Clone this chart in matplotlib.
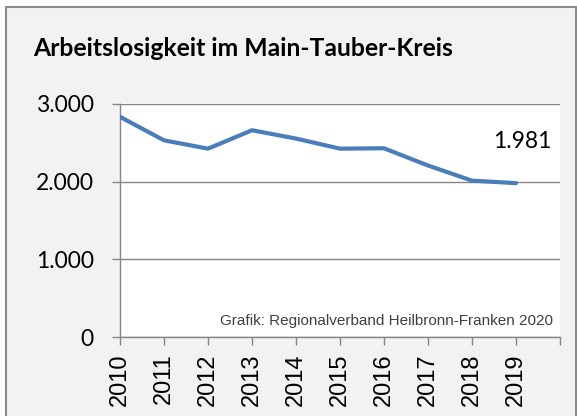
import matplotlib
matplotlib.use("Agg")
import matplotlib.pyplot as plt
from matplotlib.patches import Rectangle

years = [2010, 2011, 2012, 2013, 2014, 2015, 2016, 2017, 2018, 2019]
arbeitslose = [2835, 2532, 2425, 2662, 2555, 2425, 2430, 2208, 2013, 1981]
y_ticks = [0, 1000, 2000, 3000]
y_labels = ["0", "1.000", "2.000", "3.000"]

fig = plt.figure(figsize=(5.77, 4.16), dpi=100)
fig.patch.set_facecolor("white")

# grey panel with a border (bottom runs off the image)
W, H = 577, 416
panel = Rectangle((6 / W, -0.05), (576 - 6) / W, (H - 7) / H + 0.05,
                  transform=fig.transFigure, facecolor="#f2f2f2",
                  edgecolor="#8c8c8c", linewidth=1.5, zorder=-10)
fig.add_artist(panel)

ax = fig.add_axes([120 / W, 1 - 337 / H, 440 / W, 233 / H])
ax.set_zorder(1)
ax.set_facecolor("white")

ax.plot(years, arbeitslose, color="#4a7ebb", linewidth=3.0,
        solid_capstyle="round", solid_joinstyle="round", zorder=3)

ax.set_xlim(2010, 2020)
ax.set_ylim(0, 3000)
ax.set_xticks(list(range(2010, 2021)))
ax.set_xticklabels([str(y) for y in years] + [""], rotation=90,
                   fontsize=17, family="Liberation Sans")
ax.set_yticks(y_ticks)
ax.set_yticklabels(y_labels, fontsize=16.5, family="Lato")

ax.grid(axis="y", color="#868686", linewidth=1)
ax.set_axisbelow(True)
for s in ["top", "right"]:
    ax.spines[s].set_visible(False)
for s in ["left", "bottom"]:
    ax.spines[s].set_color("#868686")
    ax.spines[s].set_linewidth(1)
ax.tick_params(axis="both", color="#868686", width=1, length=6)
ax.tick_params(axis="y", pad=13)
ax.tick_params(axis="x", pad=6)

ax.annotate(f"{arbeitslose[-1]:,}".replace(",", "."),
            (years[-1], arbeitslose[-1]), xytext=(4.3, 30),
            textcoords="offset points", ha="center", va="center",
            fontsize=16.5, family="Lato")

ax.text(0.985, 0.04, "Grafik: Regionalverband Heilbronn-Franken 2020",
        transform=ax.transAxes, ha="right", va="bottom", fontsize=11,
        family="Liberation Sans", color="#404040")

fig.text(33 / W, 1 - 48 / H, "Arbeitslosigkeit im Main-Tauber-Kreis",
         fontsize=17.8, fontweight="bold", family="Lato",
         ha="left", va="center")

fig.savefig("out.png", dpi=100)
